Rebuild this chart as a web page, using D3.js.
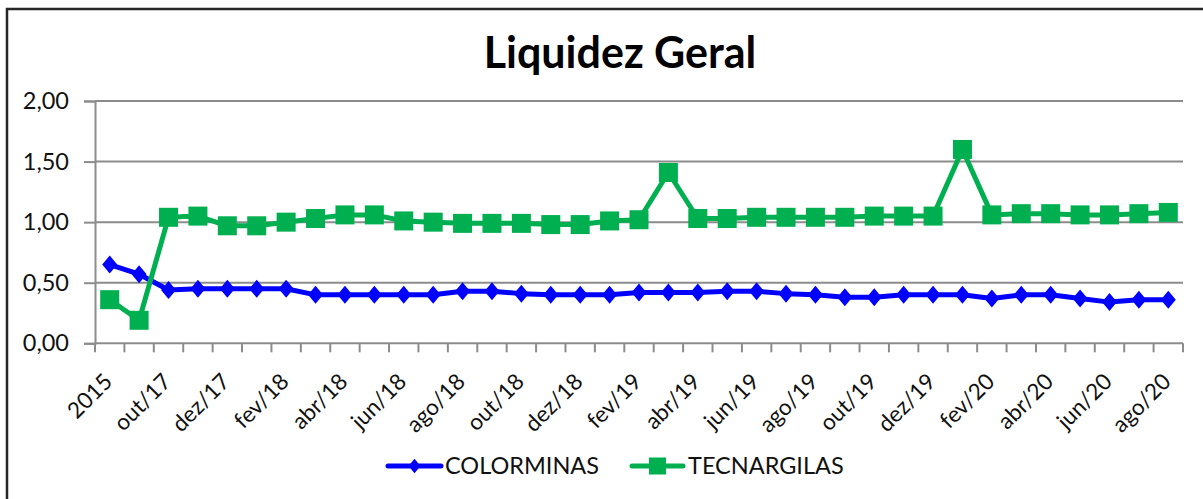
<!DOCTYPE html>
<html>
<head>
<meta charset="utf-8">
<script src="https://cdn.jsdelivr.net/npm/d3@7"></script>
<style>
  body { margin: 0; background: #fff; }
  text { font-family: Lato, "Open Sans", sans-serif; fill: #111; }
</style>
</head>
<body>
<div id="chart"></div>
<script>
// Data
const categories = ["2015","2016","out/17","nov/17","dez/17","jan/18","fev/18","mar/18","abr/18","mai/18",
  "jun/18","jul/18","ago/18","set/18","out/18","nov/18","dez/18","jan/19","fev/19","mar/19",
  "abr/19","mai/19","jun/19","jul/19","ago/19","set/19","out/19","nov/19","dez/19","jan/20",
  "fev/20","mar/20","abr/20","mai/20","jun/20","jul/20","ago/20"];

const colorminas = [0.65,0.57,0.44,0.45,0.45,0.45,0.45,0.40,0.40,0.40,
  0.40,0.40,0.43,0.43,0.41,0.40,0.40,0.40,0.42,0.42,
  0.42,0.43,0.43,0.41,0.40,0.38,0.38,0.40,0.40,0.40,
  0.37,0.40,0.40,0.37,0.34,0.36,0.36];

const tecnargilas = [0.36,0.19,1.04,1.05,0.97,0.97,1.00,1.03,1.06,1.06,
  1.01,1.00,0.99,0.99,0.99,0.98,0.98,1.01,1.02,1.41,
  1.03,1.03,1.04,1.04,1.04,1.04,1.05,1.05,1.05,1.60,
  1.06,1.07,1.07,1.06,1.06,1.07,1.08];

const yTicks = [0, 0.5, 1, 1.5, 2];

// Canvas
const svgWidth = 1203;
const svgHeight = 499;
const plot = {left: 95, right: 1183, top: 101, bottom: 343.3};

const svg = d3.select("#chart")
  .append("svg")
  .attr("width", svgWidth)
  .attr("height", svgHeight);

svg.append("rect").attr("width", svgWidth).attr("height", svgHeight).attr("fill", "#fff");

// Frame (top and left only)
svg.append("path")
  .attr("d", `M7,${svgHeight} L7,9 L${svgWidth},9`)
  .attr("fill", "none")
  .attr("stroke", "#262626")
  .attr("stroke-width", 2.5);

// Title
svg.append("text")
  .attr("x", 620)
  .attr("y", 68)
  .attr("text-anchor", "middle")
  .attr("font-size", 43)
  .attr("font-weight", 700)
  .style("fill", "#000")
  .text("Liquidez Geral");

// Scales
const xScale = d3.scaleBand().domain(categories).range([plot.left, plot.right]);
const yScale = d3.scaleLinear().domain([0, 2]).range([plot.bottom, plot.top]);
const cx = d => xScale(d) + xScale.bandwidth() / 2;
const fmt = v => d3.format(".2f")(v).replace(".", ",");

// Gridlines
svg.append("g").selectAll("line")
  .data(yTicks.filter(t => t > 0))
  .join("line")
  .attr("x1", plot.left).attr("x2", plot.right)
  .attr("y1", d => yScale(d)).attr("y2", d => yScale(d))
  .attr("stroke", "#8c8c8c")
  .attr("stroke-width", 2);

// Y axis
const yAxis = d3.axisLeft(yScale).tickValues(yTicks).tickFormat(fmt).tickSize(11).tickPadding(15);
const yG = svg.append("g").attr("transform", `translate(${plot.left},0)`).call(yAxis);
yG.select(".domain").attr("stroke", "#8c8c8c").attr("stroke-width", 2);
yG.selectAll(".tick line").attr("stroke", "#8c8c8c").attr("stroke-width", 2);
yG.selectAll(".tick text").attr("font-size", 23.5).attr("font-family", "Lato").style("fill", "#111");

// X axis line and ticks between categories
svg.append("line")
  .attr("x1", plot.left).attr("x2", plot.right)
  .attr("y1", plot.bottom).attr("y2", plot.bottom)
  .attr("stroke", "#8c8c8c").attr("stroke-width", 2);

const tickPos = categories.map(c => xScale(c)).concat([plot.right]);
svg.append("g").selectAll("line")
  .data(tickPos)
  .join("line")
  .attr("x1", d => d).attr("x2", d => d)
  .attr("y1", plot.bottom).attr("y2", plot.bottom + 9)
  .attr("stroke", "#8c8c8c").attr("stroke-width", 2);

// X labels (every other category)
svg.append("g").selectAll("text")
  .data(categories.filter((c, i) => i % 2 === 0))
  .join("text")
  .attr("transform", d => `translate(${cx(d) + 4},383) rotate(-45)`)
  .attr("text-anchor", "end")
  .attr("font-size", 22.5)
  .text(d => d);

// Series
const series = [
  {name: "COLORMINAS", values: colorminas, color: "#0000ff", marker: "diamond"},
  {name: "TECNARGILAS", values: tecnargilas, color: "#00b050", marker: "square"}
];

const line = d3.line()
  .x((d, i) => cx(categories[i]))
  .y(d => yScale(d));

const drawMarker = function(g, type, size) {
  if (type === "diamond") {
    g.append("path")
      .attr("d", `M0,${-size * 0.6} L${size * 0.5},0 L0,${size * 0.6} L${-size * 0.5},0 Z`);
  } else {
    g.append("rect")
      .attr("x", -size / 2).attr("y", -size / 2)
      .attr("width", size).attr("height", size);
  }
};

series.forEach(s => {
  svg.append("path")
    .datum(s.values)
    .attr("d", line)
    .attr("fill", "none")
    .attr("stroke", s.color)
    .attr("stroke-width", 5)
    .attr("stroke-linejoin", "round");

  svg.append("g").selectAll("g")
    .data(s.values)
    .join("g")
    .attr("transform", (d, i) => `translate(${cx(categories[i])},${yScale(d)})`)
    .attr("fill", s.color)
    .each(function() { drawMarker(d3.select(this), s.marker, s.marker === "diamond" ? 15 : 19); });
});

// Legend
const legendItems = [
  {x: 388, w: 53, textX: 445},
  {x: 632, w: 51, textX: 688}
];
const legendY = 466;

series.forEach((s, i) => {
  const item = legendItems[i];
  const lg = svg.append("g");
  lg.append("line")
    .attr("x1", item.x).attr("x2", item.x + item.w)
    .attr("y1", legendY).attr("y2", legendY)
    .attr("stroke", s.color).attr("stroke-width", 5).attr("stroke-linecap", "round");
  const m = lg.append("g")
    .attr("transform", `translate(${item.x + item.w / 2},${legendY})`)
    .attr("fill", s.color);
  drawMarker(m, s.marker, s.marker === "diamond" ? 12 : 17);
  lg.append("text")
    .attr("x", item.textX)
    .attr("y", legendY)
    .attr("dy", "0.36em")
    .attr("font-size", 23.5)
    .text(s.name);
});
</script>
</body>
</html>
